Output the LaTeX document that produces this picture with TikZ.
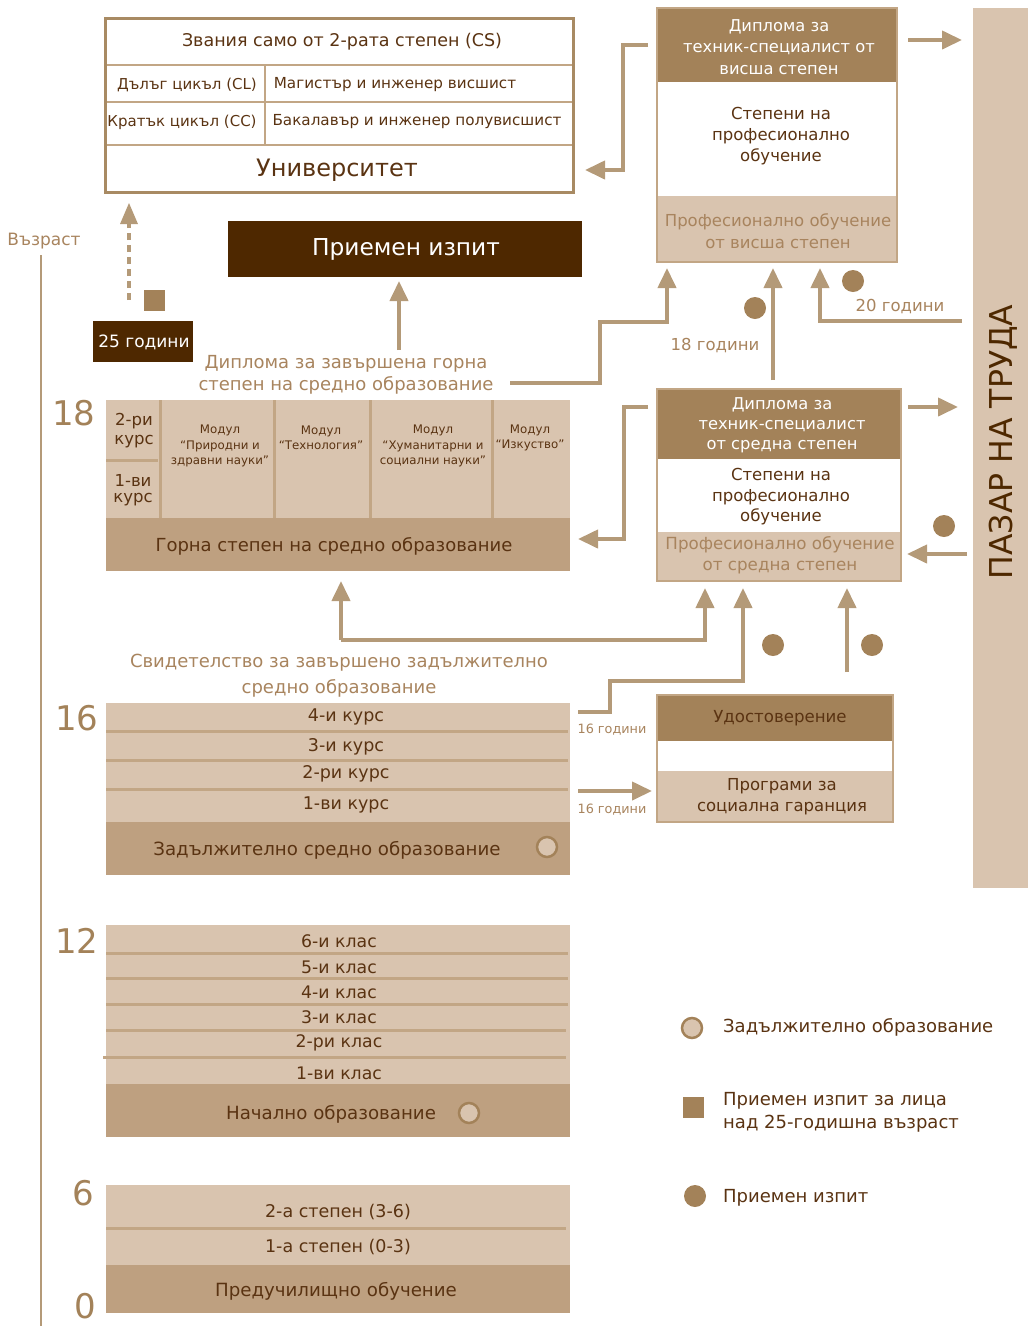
\documentclass[tikz,border=0pt]{standalone}
\usepackage{fontspec}
\setmainfont{DejaVu Sans}
\usetikzlibrary{arrows.meta}
\definecolor{dk}{HTML}{4E2800}
\definecolor{md}{HTML}{A38259}
\definecolor{ar}{HTML}{B49A78}
\definecolor{lt}{HTML}{D9C4AF}
\definecolor{barc}{HTML}{BEA080}
\definecolor{tx}{HTML}{5A3312}
\definecolor{lab}{HTML}{A8845E}
\definecolor{sep}{HTML}{C2A685}
\definecolor{frame}{HTML}{A88A63}
\newcommand\fs[2]{\fontsize{#1}{#2}\selectfont}
\begin{document}
\begin{tikzpicture}[x=1pt,y=-1pt,
  txt/.style={inner sep=0pt,align=center,text=tx},
  arr/.style={draw=ar,line width=4pt,-{Triangle[length=20pt,width=18pt]}},
  sepl/.style={draw=sep,line width=3pt},
  dot/.style={circle,fill=md,inner sep=0pt,minimum size=22pt},
  odot/.style={circle,fill=lt,draw=md,line width=2.5pt,inner sep=0pt,minimum size=20pt},
  sq/.style={fill=md,inner sep=0pt,minimum size=21pt},
  age/.style={inner sep=0pt,text=md,font=\fs{34}{36}}]
\useasboundingbox (0,0) rectangle (1028,1326);

% ---------- University ----------
\draw[sepl,line width=2.5pt] (105,65) -- (573,65) (105,102) -- (573,102) (105,145) -- (573,145) (265,65) -- (265,145);
\draw[draw=frame,line width=3pt] (105,18) rectangle (573,192);
\node[txt,font=\fs{17.5}{20}] (cs) at (342,42) {Звания само от 2-рата степен (CS)};
\node[txt,font=\fs{15}{18}] (cl) at (187,85) {Дълъг цикъл (CL)};
\node[txt,font=\fs{15.2}{18}] (ma) at (395,85) {Магистър и инженер висшист};
\node[txt,font=\fs{15}{18}] (cc) at (182,122) {Кратък цикъл (CC)};
\node[txt,font=\fs{15.2}{18}] (ba) at (417,122) {Бакалавър и инженер полувисшист};
\node[txt,font=\fs{24}{28}] (uni) at (337,170) {Университет};

% ---------- Entrance exam ----------
\fill[dk] (228,221) rectangle (582,277);
\node[txt,text=white,font=\fs{23.3}{26}] (exam) at (406,249) {Приемен изпит};

% age axis
\node[inner sep=0pt,text=lab,font=\fs{17}{20}] (vaz) at (44,241) {Възраст};
\coordinate (axT) at (41,255);
\coordinate (axB) at (41,1326);
\draw[draw=ar,line width=2pt] (axT) -- (axB);

% 25 years
\coordinate (d25a) at (129,300);
\coordinate (d25b) at (129,203);
\draw[draw=ar,line width=4pt,dash pattern=on 7pt off 5pt] (d25a) -- (129,224);
\fill[ar] (d25b) -- (120,224) -- (138,224) -- cycle;
\node[sq] (sq25) at (154.5,300.5) {};
\fill[dk] (93,321) rectangle (193,362);
\node[txt,text=white,font=\fs{17}{20}] (y25) at (144,342) {25 години};

% diploma label
\node[txt,text=lab,font=\fs{18}{22}] (dipl) at (346,375) {Диплома за завършена горна\\степен на средно образование};
\coordinate (ex1) at (399,350);
\coordinate (ex2) at (399,281);
\draw[arr] (ex1) -- (ex2);
\coordinate (dp1) at (510,383);
\coordinate (dp2) at (667,268);
\draw[arr] (dp1) -| (600,322) -| (dp2);

% ---------- Top professional box ----------
\fill[md] (657,8) rectangle (897,82);
\fill[lt] (657,196) rectangle (897,262);
\draw[draw=sep,line width=1.5pt] (657,8) rectangle (897,262);
\node[txt,text=white,font=\fs{16.3}{21.5}] (h1) at (779,47) {Диплома за\\техник-специалист от\\висша степен};
\node[txt,font=\fs{16.5}{21}] (s1) at (781,136) {Степени на\\професионално\\обучение};
\node[txt,text=lab,font=\fs{16.5}{21.5}] (p1) at (778,231) {Професионално обучение\\от висша степен};
\coordinate (t1a) at (648,45);
\coordinate (t1b) at (585,170);
\draw[arr] (t1a) -| (623,170) -- (t1b);
\coordinate (t1c) at (908,40);
\coordinate (t1d) at (962,40);
\draw[arr] (t1c) -- (t1d);

% market
\fill[lt] (973,8) rectangle (1028,888);
\node[inner sep=0pt,text=dk,rotate=90,font=\fs{31.5}{34}] (mkt) at (1003,442) {ПАЗАР НА ТРУДА};

% 18 / 20
\coordinate (m18a) at (773,380);
\coordinate (m18b) at (773,268);
\draw[arr] (m18a) -- (m18b);
\node[dot] (d18) at (755,308) {};
\node[inner sep=0pt,text=lab,font=\fs{16.5}{19}] (l18) at (715,346) {18 години};
\node[dot] (d20) at (853,281) {};
\coordinate (m20a) at (962,321);
\coordinate (m20b) at (820,268);
\draw[arr] (m20a) -| (m20b);
\node[inner sep=0pt,text=lab,font=\fs{16.5}{19}] (l20) at (900,307) {20 години};

% ---------- Middle professional box ----------
\fill[md] (657,389) rectangle (901,459);
\fill[lt] (657,532) rectangle (901,581);
\draw[draw=sep,line width=1.5pt] (657,389) rectangle (901,581);
\node[txt,text=white,font=\fs{16.3}{20}] (h2) at (782,425) {Диплома за\\техник-специалист\\от средна степен};
\node[txt,font=\fs{16.5}{20.5}] (s2) at (781,497) {Степени на\\професионално\\обучение};
\node[txt,text=lab,font=\fs{16.7}{21}] (p2) at (780,555) {Професионално обучение\\от средна степен};
\coordinate (t2a) at (648,407);
\coordinate (t2b) at (578,539);
\draw[arr] (t2a) -| (624,539) -- (t2b);
\coordinate (t2c) at (908,407);
\coordinate (t2d) at (958,407);
\draw[arr] (t2c) -- (t2d);
\coordinate (mk1) at (967,554);
\coordinate (mk2) at (907,554);
\draw[arr] (mk1) -- (mk2);
\node[dot] (dmk) at (944,526) {};

% ---------- Upper secondary ----------
\fill[lt] (106,400) rectangle (570,518);
\fill[barc] (106,518) rectangle (570,571);
\draw[sepl] (160,400) -- (160,518) (274,400) -- (274,518) (370,400) -- (370,518) (492,400) -- (492,518) (106,460) -- (158,460);
\node[txt,font=\fs{16.5}{19}] (k2) at (134,431) {2-ри\\курс};
\node[txt,font=\fs{16.5}{16}] (k1) at (133,490) {1-ви\\курс};
\node[txt,font=\fs{11.8}{15.5}] (mod1) at (220,446) {Модул\\“Природни и\\здравни науки”};
\node[txt,font=\fs{11.8}{15.5}] (mod2) at (321,438) {Модул\\“Технология”};
\node[txt,font=\fs{11.8}{15.5}] (mod3) at (433,446) {Модул\\“Хуманитарни и\\социални науки”};
\node[txt,font=\fs{11.8}{15.5}] (mod4) at (530,438) {Модул\\“Изкуство”};
\node[txt,font=\fs{18}{21}] (gorna) at (334,546) {Горна степен на средно образование};
\node[age] (a18) at (74,413) {18};

% certificate label and arrows
\node[txt,text=lab,font=\fs{18}{26}] (svid) at (339,676) {Свидетелство за завършено задължително\\средно образование};
\coordinate (c1) at (341,640);
\coordinate (c1t) at (341,581);
\draw[arr] (c1) -- (c1t);
\coordinate (c2t) at (705,588);
\draw[arr] (c1) -| (c2t);
\coordinate (c3) at (578,712);
\coordinate (c3t) at (743,588);
\draw[arr] (c3) -| (610,681) -| (c3t);
\coordinate (c4) at (847,672);
\coordinate (c4t) at (847,588);
\draw[arr] (c4) -- (c4t);
\node[dot] (dc1) at (773,645) {};
\node[dot] (dc2) at (872,645) {};

% ---------- Compulsory secondary ----------
\fill[lt] (106,703) rectangle (570,822);
\fill[barc] (106,822) rectangle (570,875);
\draw[sepl] (106,731) -- (568,731) (106,760) -- (568,760) (106,789) -- (568,789);
\node[txt,font=\fs{17.5}{20}] (r4) at (346,717) {4-и курс};
\node[txt,font=\fs{17.5}{20}] (r3) at (346,747) {3-и курс};
\node[txt,font=\fs{17.5}{20}] (r2) at (346,774) {2-ри курс};
\node[txt,font=\fs{17.5}{20}] (r1) at (346,805) {1-ви курс};
\node[txt,font=\fs{18.2}{20}] (zad) at (327,850) {Задължително средно образование};
\node[odot] (o1) at (547,847) {};
\node[age] (a16) at (77,718) {16};
\node[inner sep=0pt,text=lab,font=\fs{12.8}{15}] (g16a) at (612,730) {16 години};
\node[inner sep=0pt,text=lab,font=\fs{12.8}{15}] (g16b) at (612,810) {16 години};
\coordinate (c5) at (578,791);
\coordinate (c5t) at (652,791);
\draw[arr] (c5) -- (c5t);

% ---------- Certificate box ----------
\fill[md] (657,695) rectangle (893,741);
\fill[lt] (657,771) rectangle (893,822);
\draw[draw=sep,line width=1.5pt] (657,695) rectangle (893,822);
\node[txt,font=\fs{16.6}{20}] (udo) at (780,718) {Удостоверение};
\node[txt,font=\fs{16.5}{21}] (prog) at (782,797) {Програми за\\социална гаранция};

% ---------- Primary ----------
\fill[lt] (106,925) rectangle (570,1084);
\fill[barc] (106,1084) rectangle (570,1137);
\draw[sepl] (106,953) -- (568,953) (106,978) -- (568,978) (106,1004) -- (568,1004) (106,1030) -- (566,1030) (103,1057) -- (566,1057);
\node[txt,font=\fs{17.3}{20}] (p6) at (339,941) {6-и клас};
\node[txt,font=\fs{17.3}{20}] (p5) at (339,967) {5-и клас};
\node[txt,font=\fs{17.3}{20}] (p4) at (339,992) {4-и клас};
\node[txt,font=\fs{17.3}{20}] (p3) at (339,1017) {3-и клас};
\node[txt,font=\fs{17.3}{20}] (p2r) at (339,1043) {2-ри клас};
\node[txt,font=\fs{17.3}{20}] (p1r) at (339,1073) {1-ви клас};
\node[txt,font=\fs{18.2}{20}] (nach) at (331,1114) {Начално образование};
\node[odot] (o2) at (469,1113) {};
\node[age] (a12) at (77,941) {12};

% ---------- Preschool ----------
\fill[lt] (106,1185) rectangle (570,1265);
\fill[barc] (106,1265) rectangle (570,1313);
\draw[sepl] (106,1228) -- (566,1228);
\node[txt,font=\fs{17.5}{20}] (st2) at (338,1212) {2-а степен (3-6)};
\node[txt,font=\fs{17.5}{20}] (st1) at (338,1247) {1-а степен (0-3)};
\node[txt,font=\fs{18.2}{20}] (pred) at (336,1291) {Предучилищно обучение};
\node[age] (a6) at (83,1193) {6};
\node[age] (a0) at (85,1306) {0};

% ---------- Legend ----------
\node[odot] (lg1) at (692,1028) {};
\node[inner sep=0pt,anchor=west,text=tx,font=\fs{18}{22}] (lt1) at (723,1027) {Задължително образование};
\node[sq] (lg2) at (693.5,1107.5) {};
\node[inner sep=0pt,anchor=west,align=left,text=tx,font=\fs{18}{23}] (lt2) at (723,1112) {Приемен изпит за лица\\над 25-годишна възраст};
\node[dot] (lg3) at (695,1196) {};
\node[inner sep=0pt,anchor=west,text=tx,font=\fs{18}{22}] (lt3) at (723,1198) {Приемен изпит};
\end{tikzpicture}
\end{document}
